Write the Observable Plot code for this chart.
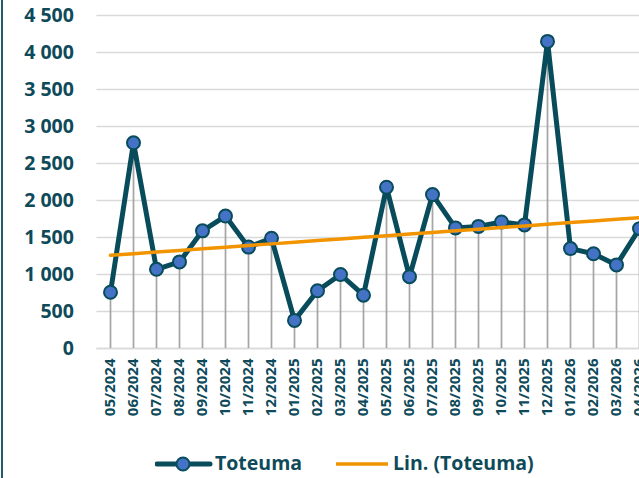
<!DOCTYPE html>
<html>
<head>
<meta charset="utf-8">
<script src="https://cdn.jsdelivr.net/npm/d3@7"></script>
<script src="https://cdn.jsdelivr.net/npm/@observablehq/plot@0.6"></script>
<style>
  html, body { margin: 0; padding: 0; background: #fff; overflow: hidden; width: 639px; height: 478px; }
  #wrap { position: relative; width: 639px; height: 478px; overflow: hidden; font-family: "Open Sans", sans-serif; font-weight: 700; color: #0e4a5a; }
  #frame { position: absolute; left: 1px; top: 0; width: 2px; height: 478px; background: #1f5d6e; }
  #chart { position: absolute; left: 0; top: 0; width: 660px; }
  #chart svg { max-width: none !important; width: 660px !important; height: 440px !important; }
  .leg { position: absolute; top: 449px; font-size: 19.5px; line-height: 28px; white-space: nowrap; }
  .leg svg { position: absolute; }
</style>
</head>
<body>
<div id="wrap">
  <div id="chart"></div>
  <div id="frame"></div>
  <div class="leg" style="left:155px;">
    <svg width="60" height="28" style="left:0;top:0"><line x1="2" y1="15" x2="55" y2="15" stroke="#084c5c" stroke-width="5" stroke-linecap="round"/><circle cx="28" cy="15" r="6.5" fill="#4472c4" stroke="#084c5c" stroke-width="2"/></svg>
    <span style="position:absolute;left:60px;top:0">Toteuma</span>
  </div>
  <div class="leg" style="left:335px;">
    <svg width="56" height="28" style="left:0;top:0"><line x1="1" y1="15" x2="53" y2="15" stroke="#f29400" stroke-width="3.5"/></svg>
    <span style="position:absolute;left:58px;top:0">Lin. (Toteuma)</span>
  </div>
</div>
<script>
const months = ["05/2024","06/2024","07/2024","08/2024","09/2024","10/2024","11/2024","12/2024",
  "01/2025","02/2025","03/2025","04/2025","05/2025","06/2025","07/2025","08/2025","09/2025","10/2025","11/2025","12/2025",
  "01/2026","02/2026","03/2026","04/2026"];
const values = [760, 2780, 1070, 1170, 1590, 1790, 1370, 1490,
  380, 780, 1000, 720, 2180, 970, 2080, 1630, 1650, 1710, 1670, 4150,
  1350, 1280, 1130, 1620];
const yTicks = [0, 500, 1000, 1500, 2000, 2500, 3000, 3500, 4000, 4500];

const data = months.map((m, i) => ({month: m, value: values[i], i}));

// least-squares linear trend (Excel "Lin." trendline) computed from the data
const mx = d3.mean(data, d => d.i), my = d3.mean(values);
const sxy = d3.sum(data, d => (d.i - mx) * (d.value - my));
const sxx = d3.sum(data, d => (d.i - mx) ** 2);
const slope = sxy / sxx, intercept = my - slope * mx;
const trend = data.map(d => ({month: d.month, value: intercept + slope * d.i}));

const teal = "#084c5c";
const fmt = d => d3.format(",")(d).replace(/,/g, " ");

const chart = Plot.plot({
  width: 660,
  height: 440,
  marginLeft: 96.4,
  marginRight: 7.3,
  marginTop: 15,
  marginBottom: 92,
  style: {fontFamily: "Open Sans, sans-serif", fontWeight: 700, color: "#0e4a5a", background: "transparent", maxWidth: "none"},
  x: {type: "point", domain: months, padding: 0.5, align: 0.5},
  y: {domain: [0, 4500]},
  marks: [
    Plot.gridY(yTicks, {stroke: "#d9d9d9", strokeOpacity: 1, strokeWidth: 1.6}),
    Plot.ruleY([0], {stroke: "#d9d9d9", strokeWidth: 1.6}),
    Plot.ruleX(data, {x: "month", y1: 0, y2: "value", stroke: "#a6a6a6", strokeWidth: 1.75}),
    Plot.line(data, {x: "month", y: "value", stroke: teal, strokeWidth: 5, strokeLinejoin: "round", strokeLinecap: "round"}),
    Plot.dot(data, {x: "month", y: "value", r: 6.5, fill: "#4472c4", stroke: teal, strokeWidth: 2}),
    Plot.line(trend, {x: "month", y: "value", stroke: "#f29400", strokeWidth: 3.5}),
    Plot.axisY(yTicks, {tickSize: 0, tickPadding: 23, tickFormat: fmt, fontSize: 19.5, label: null}),
    Plot.axisX({tickSize: 0, tickPadding: 10, tickRotate: -90, fontSize: 15, label: null})
  ]
});
document.getElementById("chart").appendChild(chart);
</script>
</body>
</html>
